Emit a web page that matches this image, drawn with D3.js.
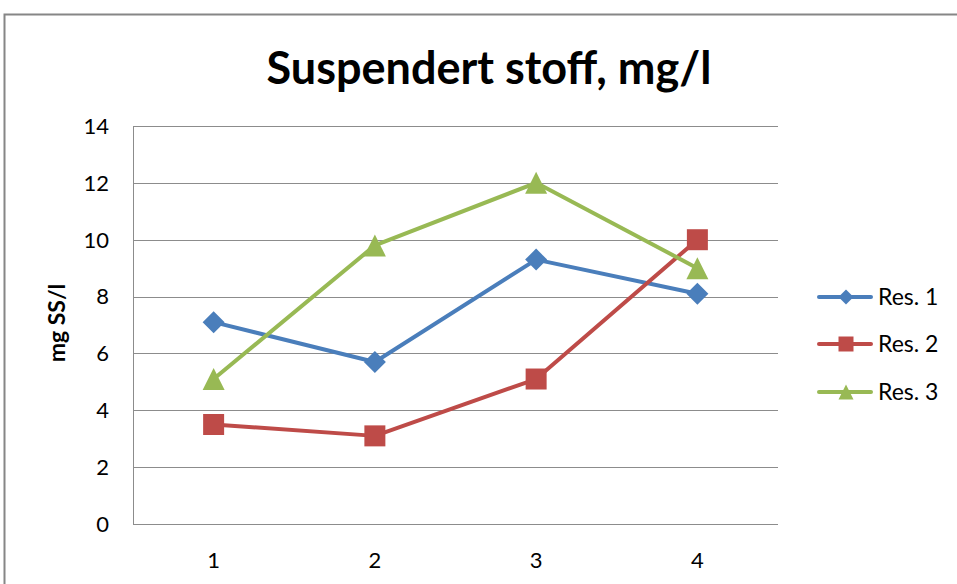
<!DOCTYPE html>
<html>
<head>
<meta charset="utf-8">
<script src="https://cdn.jsdelivr.net/npm/d3@7"></script>
<style>
  body { margin: 0; background: #fff; }
  svg { display: block; font-family: Lato, "Open Sans", sans-serif; }
</style>
</head>
<body>
<svg id="chart"></svg>
<script>
// chart data
var categories = ["1", "2", "3", "4"];
var seriesNames = ["Res. 1", "Res. 2", "Res. 3"];
var res1 = [7.1, 5.7, 9.3, 8.1];
var res2 = [3.5, 3.1, 5.1, 10.0];
var res3 = [5.1, 9.8, 12.0, 9.0];
var yTicks = [0, 2, 4, 6, 8, 10, 12, 14];

var width = 957, height = 584;
var colors = ["#4a7ebb", "#be4b48", "#98b954"];

var plotLeft = 133, plotRight = 778, plotTop = 126, plotBottom = 524;

// excel-like marker shapes, r = half of the box size
function diamond(r) {
    return "M0," + (-r) + "L" + r + ",0L0," + r + "L" + (-r) + ",0Z";
}
function square(r) {
    return "M" + (-r) + "," + (-r) + "H" + r + "V" + r + "H" + (-r) + "Z";
}
function triangle(r) {
    return "M0," + (-r) + "L" + r + "," + r + "L" + (-r) + "," + r + "Z";
}
var shapes = [diamond, square, triangle];
var markerR = [11, 10.5, 11];
var legendR = [7.5, 7.5, 7.5];

var svg = d3.select("#chart")
    .attr("width", width)
    .attr("height", height);

// outer frame
svg.append("rect")
    .attr("x", 4.5).attr("y", 14.5)
    .attr("width", 1000).attr("height", 1000)
    .attr("fill", "none")
    .attr("stroke", "#868686")
    .attr("stroke-width", 2);

var xScale = d3.scaleBand().domain(categories).range([plotLeft, plotRight]);
var yScale = d3.scaleLinear().domain([0, 14]).range([plotBottom, plotTop]);

function xPos(i) {
    return xScale(categories[i]) + xScale.bandwidth() / 2;
}

// gridlines
svg.append("g")
    .selectAll("line")
    .data(yTicks)
    .enter()
    .append("line")
    .attr("x1", plotLeft).attr("x2", plotRight)
    .attr("y1", function (d) { return Math.round(yScale(d)) + 0.5; })
    .attr("y2", function (d) { return Math.round(yScale(d)) + 0.5; })
    .attr("stroke", "#8c8c8c")
    .attr("stroke-width", 1);

// left axis line
svg.append("line")
    .attr("x1", plotLeft + 0.5).attr("x2", plotLeft + 0.5)
    .attr("y1", plotTop).attr("y2", plotBottom)
    .attr("stroke", "#8c8c8c");

// y tick labels
svg.append("g")
    .selectAll("text")
    .data(yTicks)
    .enter()
    .append("text")
    .attr("x", 109)
    .attr("y", function (d) { return yScale(d); })
    .attr("dy", "0.36em")
    .attr("text-anchor", "end")
    .attr("font-size", 22)
    .attr("fill", "#000")
    .text(function (d) { return d; });

// x tick labels
svg.append("g")
    .selectAll("text")
    .data(categories)
    .enter()
    .append("text")
    .attr("x", function (d, i) { return xPos(i); })
    .attr("y", 568)
    .attr("text-anchor", "middle")
    .attr("font-size", 22)
    .attr("fill", "#000")
    .text(function (d) { return d; });

// title
svg.append("text")
    .attr("x", 489).attr("y", 84)
    .attr("text-anchor", "middle")
    .attr("font-size", 45)
    .attr("font-weight", "bold")
    .text("Suspendert stoff, mg/l");

// y axis title
svg.append("text")
    .attr("transform", "translate(65,323) rotate(-90)")
    .attr("text-anchor", "middle")
    .attr("font-size", 23)
    .attr("font-weight", "bold")
    .text("mg SS/l");

var allSeries = [res1, res2, res3];

var line = d3.line()
    .x(function (d, i) { return xPos(i); })
    .y(function (d) { return yScale(d); });

allSeries.forEach(function (values, s) {
    var g = svg.append("g");
    g.append("path")
        .datum(values)
        .attr("d", line)
        .attr("fill", "none")
        .attr("stroke", colors[s])
        .attr("stroke-width", 4)
        .attr("stroke-linejoin", "round");

    g.selectAll("path.marker")
        .data(values)
        .enter()
        .append("path")
        .attr("class", "marker")
        .attr("d", shapes[s](markerR[s]))
        .attr("transform", function (d, i) {
            return "translate(" + xPos(i) + "," + yScale(d) + ")";
        })
        .attr("fill", colors[s]);
});

// legend
var legendY = [297, 344, 392];
var legend = svg.append("g")
    .selectAll("g")
    .data(seriesNames)
    .enter()
    .append("g")
    .attr("transform", function (d, i) { return "translate(0," + legendY[i] + ")"; });

legend.append("line")
    .attr("x1", 819).attr("x2", 871)
    .attr("y1", 0).attr("y2", 0)
    .attr("stroke", function (d, i) { return colors[i]; })
    .attr("stroke-width", 4)
    .attr("stroke-linecap", "round");

legend.append("path")
    .attr("d", function (d, i) { return shapes[i](legendR[i]); })
    .attr("transform", "translate(846,0)")
    .attr("fill", function (d, i) { return colors[i]; });

legend.append("text")
    .attr("x", 878)
    .attr("y", 0)
    .attr("dy", "0.36em")
    .attr("font-size", 23)
    .text(function (d) { return d; });
</script>
</body>
</html>
